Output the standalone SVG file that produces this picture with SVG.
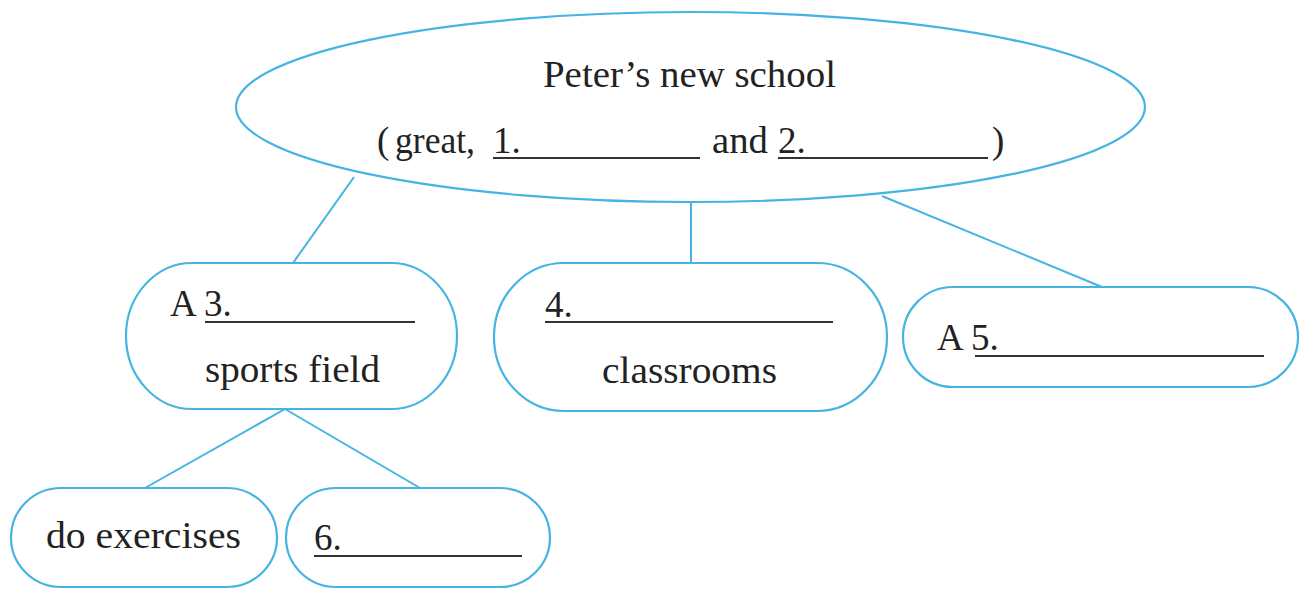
<svg xmlns="http://www.w3.org/2000/svg" width="1310" height="597" viewBox="0 0 1310 597">
<style>
.shape{fill:#fff;stroke:#45b4e2;stroke-width:2.2}
.conn{stroke:#45b4e2;stroke-width:2;fill:none}
.t{font-family:'Liberation Serif','Times New Roman',serif;font-size:37px;fill:#222}
.u{stroke:#333;stroke-width:2}
</style>
<rect width="1310" height="597" fill="#fff"/>
<g id="connectors">
<line class="conn" x1="354" y1="177" x2="293" y2="263"/>
<line class="conn" x1="691" y1="203" x2="691" y2="263"/>
<line class="conn" x1="882" y1="196" x2="1102" y2="287"/>
<line class="conn" x1="285" y1="409" x2="145" y2="488"/>
<line class="conn" x1="285" y1="409" x2="420" y2="488"/>
</g>
<g id="root">
<ellipse class="shape" cx="690.5" cy="107" rx="454.5" ry="95"/>
<text class="t" x="543" y="87" textLength="293" lengthAdjust="spacingAndGlyphs">Peter’s new school</text>
<text class="t" x="377" y="153">(</text>
<text class="t" x="395" y="153" textLength="80" lengthAdjust="spacingAndGlyphs">great,</text>
<text class="t" x="493" y="153">1.</text>
<line class="u" x1="493" y1="158" x2="700" y2="158"/>
<text class="t" x="712" y="153" textLength="56" lengthAdjust="spacingAndGlyphs">and</text>
<text class="t" x="778" y="153">2.</text>
<line class="u" x1="778" y1="158" x2="988" y2="158"/>
<text class="t" x="992" y="153">)</text>
</g>
<g id="node-a3">
<rect class="shape" x="126" y="263" width="331" height="146" rx="66" ry="73"/>
<text class="t" x="170" y="316">A 3.</text>
<line class="u" x1="205" y1="322" x2="415" y2="322"/>
<text class="t" x="205" y="382" textLength="175" lengthAdjust="spacingAndGlyphs">sports field</text>
</g>
<g id="node-4">
<rect class="shape" x="494" y="263" width="393" height="148" rx="70" ry="74"/>
<text class="t" x="545" y="317">4.</text>
<line class="u" x1="545" y1="322" x2="833" y2="322"/>
<text class="t" x="602" y="383" textLength="175" lengthAdjust="spacingAndGlyphs">classrooms</text>
</g>
<g id="node-a5">
<rect class="shape" x="903" y="287" width="395" height="100" rx="50" ry="50"/>
<text class="t" x="937" y="350">A 5.</text>
<line class="u" x1="975" y1="356" x2="1264" y2="356"/>
</g>
<g id="node-exercises">
<rect class="shape" x="11" y="488" width="266" height="99" rx="50" ry="49.5"/>
<text class="t" x="46" y="548" textLength="195" lengthAdjust="spacingAndGlyphs">do exercises</text>
</g>
<g id="node-6">
<rect class="shape" x="286" y="488" width="264" height="99" rx="50" ry="49.5"/>
<text class="t" x="314" y="550">6.</text>
<line class="u" x1="314" y1="556" x2="522" y2="556"/>
</g>
</svg>
